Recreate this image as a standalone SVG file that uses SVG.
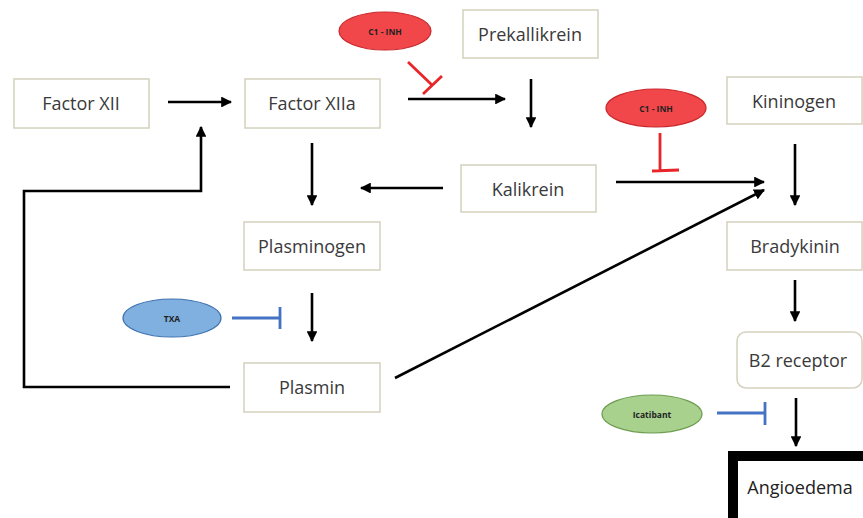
<svg xmlns="http://www.w3.org/2000/svg" width="863" height="518" viewBox="0 0 863 518">
<defs>
<marker id="ah" viewBox="0 0 10 10" refX="9" refY="5" markerWidth="4.2" markerHeight="4.2" orient="auto" markerUnits="strokeWidth">
<path d="M0,0 L10,5 L0,10 z" fill="#000"/>
</marker>
<style>
.box{fill:#fff;stroke:#d4d2bd;stroke-width:1.5}
.lbl{font-family:"Open Sans","Liberation Sans",sans-serif;font-size:18px;fill:#3a3a3a;text-anchor:middle;dominant-baseline:central}
.sm{font-family:"Open Sans","Liberation Sans",sans-serif;font-size:8.5px;font-weight:bold;fill:#222;text-anchor:middle;dominant-baseline:central}
.arr{fill:none;stroke:#000;stroke-width:2.6;marker-end:url(#ah)}
.redinh{fill:none;stroke:#e8262a;stroke-width:2.8}
.blueinh{fill:none;stroke:#4472c4;stroke-width:2.8}
</style>
</defs>
<rect width="863" height="518" fill="#fff"/>
<g id="connectors">
<line class="arr" x1="168" y1="102" x2="231" y2="102"/>
<line class="arr" x1="408" y1="99" x2="505" y2="99"/>
<line class="arr" x1="531" y1="79" x2="531" y2="127"/>
<line class="arr" x1="443" y1="188" x2="361" y2="188"/>
<line class="arr" x1="312" y1="143" x2="312" y2="205"/>
<line class="arr" x1="312" y1="293" x2="312" y2="341"/>
<line class="arr" x1="616" y1="182" x2="764" y2="182"/>
<line class="arr" x1="395" y1="378" x2="764" y2="190"/>
<line class="arr" x1="795" y1="144" x2="795" y2="205"/>
<line class="arr" x1="795" y1="280" x2="795" y2="321"/>
<line class="arr" x1="796" y1="398" x2="796" y2="446"/>
<polyline class="arr" points="230,387 24,387 24,191 201,191 201,127"/>
<path class="redinh" d="M408,62 L432,85 M423,94 L442,76"/>
<path class="redinh" d="M660,133 L660,171 M652,171 L679,170"/>
<path class="blueinh" d="M232,318 L280,318 M280,307 L280,329"/>
<path class="blueinh" d="M717,413 L765,413 M765,402 L765,425"/>
</g>
<g id="factor-xii"><rect class="box" x="14" y="79" width="135" height="49"/><text class="lbl" x="81" y="103">Factor XII</text></g>
<g id="factor-xiia"><rect class="box" x="245" y="79" width="135" height="49"/><text class="lbl" x="312" y="103">Factor XIIa</text></g>
<g id="prekallikrein"><rect class="box" x="463" y="10" width="135" height="48"/><text class="lbl" x="530" y="34">Prekallikrein</text></g>
<g id="kininogen"><rect class="box" x="727" y="77" width="135" height="47"/><text class="lbl" x="794" y="101">Kininogen</text></g>
<g id="kalikrein"><rect class="box" x="461" y="165" width="135" height="47"/><text class="lbl" x="528" y="189">Kalikrein</text></g>
<g id="plasminogen"><rect class="box" x="244" y="222" width="136" height="48"/><text class="lbl" x="312" y="246">Plasminogen</text></g>
<g id="plasmin"><rect class="box" x="244" y="363" width="136" height="49"/><text class="lbl" x="312" y="387">Plasmin</text></g>
<g id="bradykinin"><rect class="box" x="727" y="222" width="135" height="48"/><text class="lbl" x="795" y="246">Bradykinin</text></g>
<g id="b2-receptor"><rect class="box" x="737" y="332" width="125" height="56" rx="9"/><text class="lbl" x="798" y="360">B2 receptor</text></g>
<g id="angioedema"><rect x="733" y="456" width="140" height="70" fill="#fff" stroke="#000" stroke-width="10"/><text class="lbl" x="800" y="487" style="fill:#222">Angioedema</text></g>
<g id="c1-inh-1"><ellipse cx="385" cy="31" rx="46" ry="19" fill="#f2474a" stroke="#c8282c" stroke-width="1.2"/><text class="sm" x="385" y="31">C1 - INH</text></g>
<g id="c1-inh-2"><ellipse cx="656" cy="108" rx="50" ry="19" fill="#f2474a" stroke="#c8282c" stroke-width="1.2"/><text class="sm" x="656" y="108">C1 - INH</text></g>
<g id="txa"><ellipse cx="172" cy="318" rx="49" ry="19" fill="#7fb0e0" stroke="#3f72b0" stroke-width="1.2"/><text class="sm" x="172" y="318">TXA</text></g>
<g id="icatibant"><ellipse cx="652" cy="414" rx="50" ry="19" fill="#a8d18d" stroke="#6e9e52" stroke-width="1.2"/><text class="sm" x="652" y="414">Icatibant</text></g>
</svg>
